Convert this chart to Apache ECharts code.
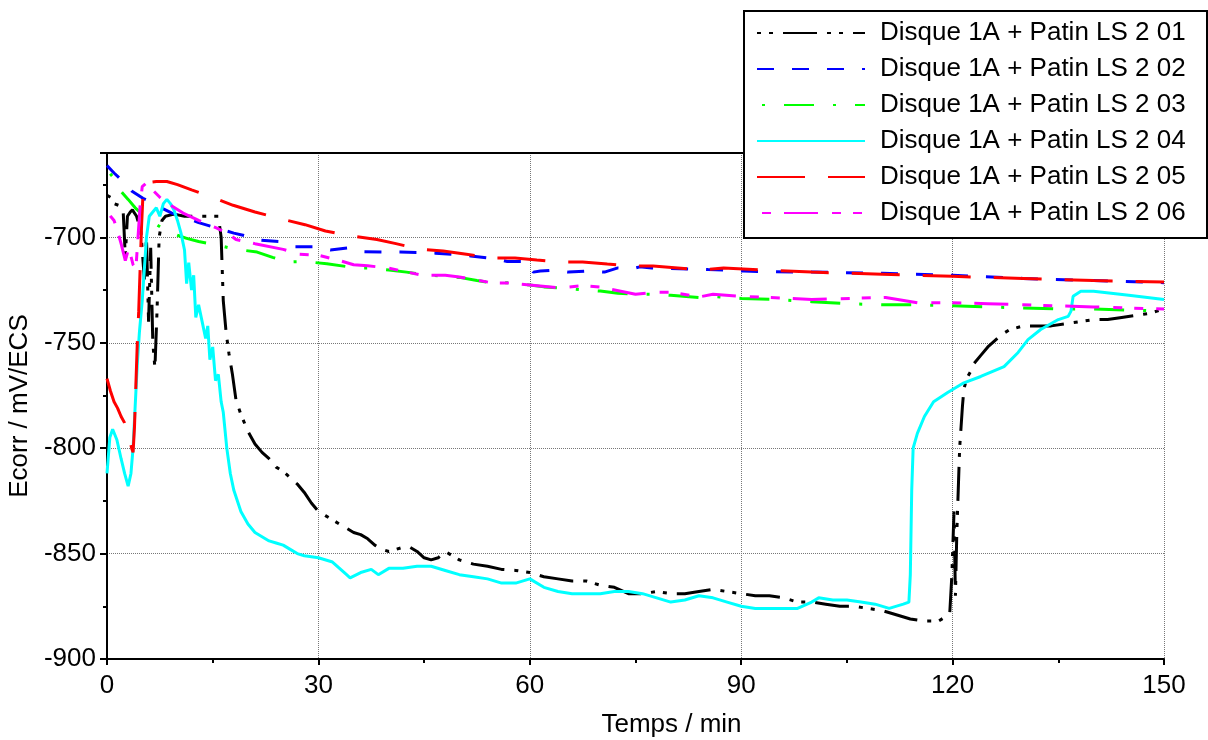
<!DOCTYPE html>
<html>
<head>
<meta charset="utf-8">
<script src="https://cdn.jsdelivr.net/npm/echarts@6/dist/echarts.min.js"></script>
<style>
html,body{margin:0;padding:0;background:#fff;}
#chart{width:1208px;height:740px;}
</style>
</head>
<body>
<div id="chart"></div>
<script>
// ---------- DATA ----------
var seriesNames = ['Disque 1A + Patin LS 2 01','Disque 1A + Patin LS 2 02','Disque 1A + Patin LS 2 03','Disque 1A + Patin LS 2 04','Disque 1A + Patin LS 2 05','Disque 1A + Patin LS 2 06'];
var xTicks = [0, 30, 60, 90, 120, 150];
var yTicks = [-900, -850, -800, -750, -700];

var t01 = [0,0.5,1,1.8,2.3,2.6,2.9,3.3,3.6,4.2,4.8,5.3,5.6,5.9,6.2,6.5,6.8,7.1,7.4,7.8,8.3,9.5,11,13,15,15.8,16.2,16.5,16.9,17.3,17.8,18.3,19,20,21,22,23,24,25,26,27,28,29,30,31,32,33,34,35,36,37,38,39,40,41,42,43,44,45,46,47,48,50,52,54,56,58,60,62,64,66,68,70,72,74,76,78,80,82,84,86,88,90,92,94,96,98,100,102,104,106,108,110,112,114,116,117,118,119,119.6,119.9,120.2,120.4,120.6,120.8,121,121.2,121.4,121.6,122,122.5,123,124,125,126,127,128,129,130,132,134,136,138,140,142,144,146,148,150];
var v01 = [-680,-681,-684,-685,-688,-709,-690,-688,-687,-690,-697,-720,-700,-740,-705,-750,-762,-735,-700,-692,-690,-689,-690,-690,-690,-690,-700,-730,-745,-755,-765,-777,-784,-792,-798,-802,-805,-809,-811,-814,-817,-821,-826,-830,-832,-834,-836,-838,-840,-841,-843,-846,-848,-849,-848,-847,-847,-849,-852,-853,-852,-849,-853,-855,-856,-857.5,-858,-859,-861,-862,-863,-863,-865,-866,-869,-869,-868,-869,-869,-868,-867,-868,-869,-870,-870,-871,-873,-873,-874,-875,-875,-876,-877,-879,-881,-882,-882,-882,-880,-878,-860,-830,-870,-840,-820,-800,-790,-780,-772,-767,-764,-760,-756,-752,-749,-746,-744,-743,-742,-742,-742,-741,-740,-739,-739,-738,-737,-736,-734];

var t02 = [0,1,2.3,3.5,5.1,6.6,8,9.2,11,13,15,16.5,18,19.3,21.7,24.6,26.7,29.3,31.7,34.3,36,39.5,41.6,44.5,46.6,49.8,51.6,54.8,56.8,59.7,60,60.5,61.5,63.5,65.5,67.9,70.6,72.5,74.5,75.6,77.3,80,85.3,87.6,90.4,92.3,100,110,120,130,140,150];
var v02 = [-666,-669.5,-673.6,-678,-681.5,-683.7,-686.5,-688.5,-690.5,-693,-695,-696.5,-698,-699,-701.3,-702,-704.5,-704.5,-706,-705,-706.8,-707,-707,-707.2,-707.5,-708.3,-708.8,-710,-711.5,-711.5,-714,-716.5,-716,-715.5,-716.5,-716,-716.5,-714.5,-715,-714,-714.5,-714.8,-715.3,-715.5,-716,-716.2,-716.5,-717,-718,-719.5,-720.5,-721.5];

var t03 = [0,1,1.8,3,4,5.1,6.5,8.3,10,11.3,13,15.6,18,21.3,23.5,25.6,28,31.2,35.5,37.5,40,42.5,44.5,48,50,52.5,55,57,60,62,64.3,66,68,70,72.5,75,78,80,84,86,90,95,100,105,110,115,120,125,130,135,140,145,150];
var v03 = [-668,-672,-677.5,-682,-686,-689.4,-693,-696.5,-699,-700.5,-702,-703.6,-705.5,-707,-709.5,-711.7,-711.5,-712.5,-714.6,-714.5,-715.5,-716.5,-717.5,-718.5,-719,-720.5,-721.7,-721.5,-722.6,-723.5,-724,-724.5,-725,-725.5,-726.5,-727,-727,-727.5,-728.5,-728,-729,-729.5,-730.5,-731.5,-732,-732,-732.5,-733,-733.5,-734,-734,-734.5,-735];

var t04 = [0,0.4,0.8,1.4,2,2.5,3,3.4,3.7,4,4.3,4.6,5,5.3,5.6,6,6.5,7,7.5,8,8.5,9,9.5,10,10.5,11,11.3,11.6,12,12.3,12.6,13,13.5,14,14.3,14.6,15,15.4,15.8,16.2,16.5,17,17.5,18,19,20,21,22,23,24,25,26,27,28,30,32,34,34.5,36,37.5,38.5,40,42,44,46,48,50,52,54,56,58,60,62,64,66,68,70,72,74,76,78,80,82,84,86,88,90,92,94,96,98,100,101,103,105,107,109,111,113,113.8,114,114.2,114.4,115,116,117.3,119.3,121.6,124,127.3,129.3,130.7,132.5,135,136.4,136.8,137.1,138.2,140,145,150];
var v04 = [-812,-795,-791,-796,-805,-812,-818,-812,-800,-780,-760,-745,-730,-715,-700,-690,-688,-686,-690,-684,-682,-684,-687,-692,-698,-706,-722,-712,-725,-718,-738,-732,-740,-748,-742,-758,-752,-768,-765,-778,-783,-800,-812,-820,-830,-836,-840,-842,-844,-845,-846,-848,-850,-851,-852,-854,-860,-861.5,-859,-857.5,-860,-857,-857,-856,-856,-858,-860,-861,-862,-864,-864,-862,-866,-868,-869,-869,-869,-868,-868,-869,-871,-873,-872,-870,-871,-873,-875,-876,-876,-876,-876,-873,-871,-872,-872,-873,-874,-876,-874,-873,-860,-820,-800,-793,-785,-778,-773.6,-769,-766,-761.3,-754.6,-748.5,-743.7,-739,-737.5,-735,-728,-725.6,-725.6,-727.5,-729.5];

var t05 = [0,0.5,1,1.5,2,2.5,3,3.5,3.7,3.9,4.1,4.3,4.5,4.7,4.9,5.1,5.4,5.8,7,8.5,10,12,14.6,17.9,21,24.9,28.1,31,35,38.3,41,44.5,47.7,51,54.8,57.9,61,64.3,67.5,71,74.3,77.5,81,84.2,87.5,92.8,100,110,120,130,140,150];
var v05 = [-767,-773,-778,-781,-785,-788,-793,-800,-802,-790,-770,-750,-735,-715,-695,-680,-675,-674,-673.5,-673.5,-675,-677.5,-680.5,-684.8,-688,-691.4,-694,-697,-699.5,-701,-703,-705.7,-706.5,-708,-709.8,-709.8,-710.8,-711.7,-711.7,-712.7,-713.6,-713.6,-714.5,-715.5,-714.6,-715.5,-716.5,-717.5,-718.5,-719.5,-720.5,-721.2];

var t06 = [0,0.5,1,1.5,2,2.6,3.1,3.7,4.1,4.4,4.7,5,5.5,6,7.5,8.2,10.8,13,15.6,17.5,18.3,21,25,27.3,30,33,35,37,40,44.7,48,50,54.8,57,60,64.3,67.4,70,75,78,80,84,86,90,92.7,100,110.5,115,120,125,130,135,140,145,150];
var v06 = [-688,-690,-692,-697,-703,-711,-705,-713,-715,-700,-685,-676,-674.5,-676,-681,-683,-688.5,-692,-695.6,-699,-701,-703,-705.7,-708,-708.5,-711,-713,-713.5,-714.6,-718,-718,-718.8,-721.7,-721.7,-722.6,-724,-722.9,-723.6,-727,-726,-726,-728.3,-727,-728,-728.3,-729.5,-728.5,-731,-731,-731.5,-732,-732.5,-733,-733.5,-734];

var seriesT = [t01, t02, t03, t04, t05, t06];
var seriesV = [v01, v02, v03, v04, v05, v06];

// ---------- STYLE ----------
var colors = ['#000000', '#0000ff', '#00ff00', '#00ffff', '#ff0000', '#ff00ff'];
var dashes = [[4, 8, 4, 10, 34, 10], [17, 18], [3, 19, 30, 19], 'solid', [48, 23], [9, 12, 9, 13, 34, 14]];
var dashOffsets = [0, 0, 66, 0, 0, 16];
var FONT = 'Liberation Sans, Arial, sans-serif';
var FS = 26;

function zip(t, v) {
  var out = [];
  for (var i = 0; i < t.length; i++) out.push([t[i], v[i]]);
  return out;
}

var series = seriesNames.map(function (name, i) {
  return {
    name: name,
    type: 'line',
    data: zip(seriesT[i], seriesV[i]),
    symbol: 'none',
    showSymbol: false,
    smooth: false,
    lineStyle: { color: colors[i], width: 3, type: dashes[i], dashOffset: dashOffsets[i], cap: 'butt' },
    itemStyle: { color: colors[i] },
    emphasis: { disabled: true }
  };
});

var chart = echarts.init(document.getElementById('chart'), null, { renderer: 'canvas' });
chart.setOption({
  animation: false,
  backgroundColor: '#ffffff',
  textStyle: { fontFamily: FONT },
  grid: { left: 107, right: 44, top: 153, bottom: 81, show: false, containLabel: false, outerBoundsMode: 'none' },
  xAxis: [{
    type: 'value', min: xTicks[0], max: xTicks[xTicks.length - 1], interval: 30,
    name: 'Temps / min', nameLocation: 'middle', nameGap: 53,
    nameTextStyle: { fontSize: FS, color: '#000', fontFamily: FONT, padding: [0, 0, 0, 72] },
    axisLine: { show: true, lineStyle: { color: '#000', width: 2 } },
    axisTick: { show: true, length: 6, lineStyle: { color: '#000', width: 2 } },
    minorTick: { show: true, splitNumber: 2, length: 4, lineStyle: { color: '#000', width: 2 } },
    splitLine: { show: true, lineStyle: { type: 'dotted', color: '#777', width: 1 } },
    axisLabel: { fontSize: FS, color: '#000', margin: 14, fontFamily: FONT }
  }, {
    type: 'value', position: 'top', min: xTicks[0], max: xTicks[xTicks.length - 1], interval: 30,
    axisLine: { show: true, lineStyle: { color: '#000', width: 2 } },
    axisTick: { show: false }, axisLabel: { show: false }, splitLine: { show: false }
  }],
  yAxis: [{
    type: 'value', min: yTicks[0], max: -660, interval: 50,
    name: 'Ecorr / mV/ECS', nameLocation: 'middle', nameGap: 74,
    nameTextStyle: { fontSize: FS, color: '#000', fontFamily: FONT },
    axisLine: { show: true, lineStyle: { color: '#000', width: 2 } },
    axisTick: { show: true, length: 7, lineStyle: { color: '#000', width: 2 } },
    minorTick: { show: true, splitNumber: 2, length: 4, lineStyle: { color: '#000', width: 2 } },
    splitLine: { show: true, lineStyle: { type: 'dotted', color: '#777', width: 1 } },
    axisLabel: { fontSize: FS, color: '#000', margin: 11, fontFamily: FONT, showMaxLabel: false,
      formatter: function (v) { return yTicks.indexOf(v) >= 0 ? String(v) : ''; } }
  }, {
    type: 'value', position: 'right', min: yTicks[0], max: -660, interval: 50,
    axisLine: { show: true, lineStyle: { color: '#000', width: 2 } },
    axisTick: { show: false }, axisLabel: { show: false }, splitLine: { show: false }
  }],
  graphic: [{
    type: 'rect', z: 5, left: 743, top: 10,
    shape: { width: 463, height: 227 },
    style: { fill: '#fff', stroke: '#000', lineWidth: 2 }
  }],
  legend: {
    z: 6, orient: 'vertical', left: 756, top: 20, padding: 0,
    itemWidth: 108, itemHeight: 20, itemGap: 10,
    data: seriesNames,
    itemStyle: { opacity: 0, borderWidth: 0 },
    textStyle: { fontSize: FS, color: '#000', fontFamily: FONT, lineHeight: 26, padding: [0, 0, 0, 10] },
    selectedMode: false
  },
  series: series
});
</script>
</body>
</html>
